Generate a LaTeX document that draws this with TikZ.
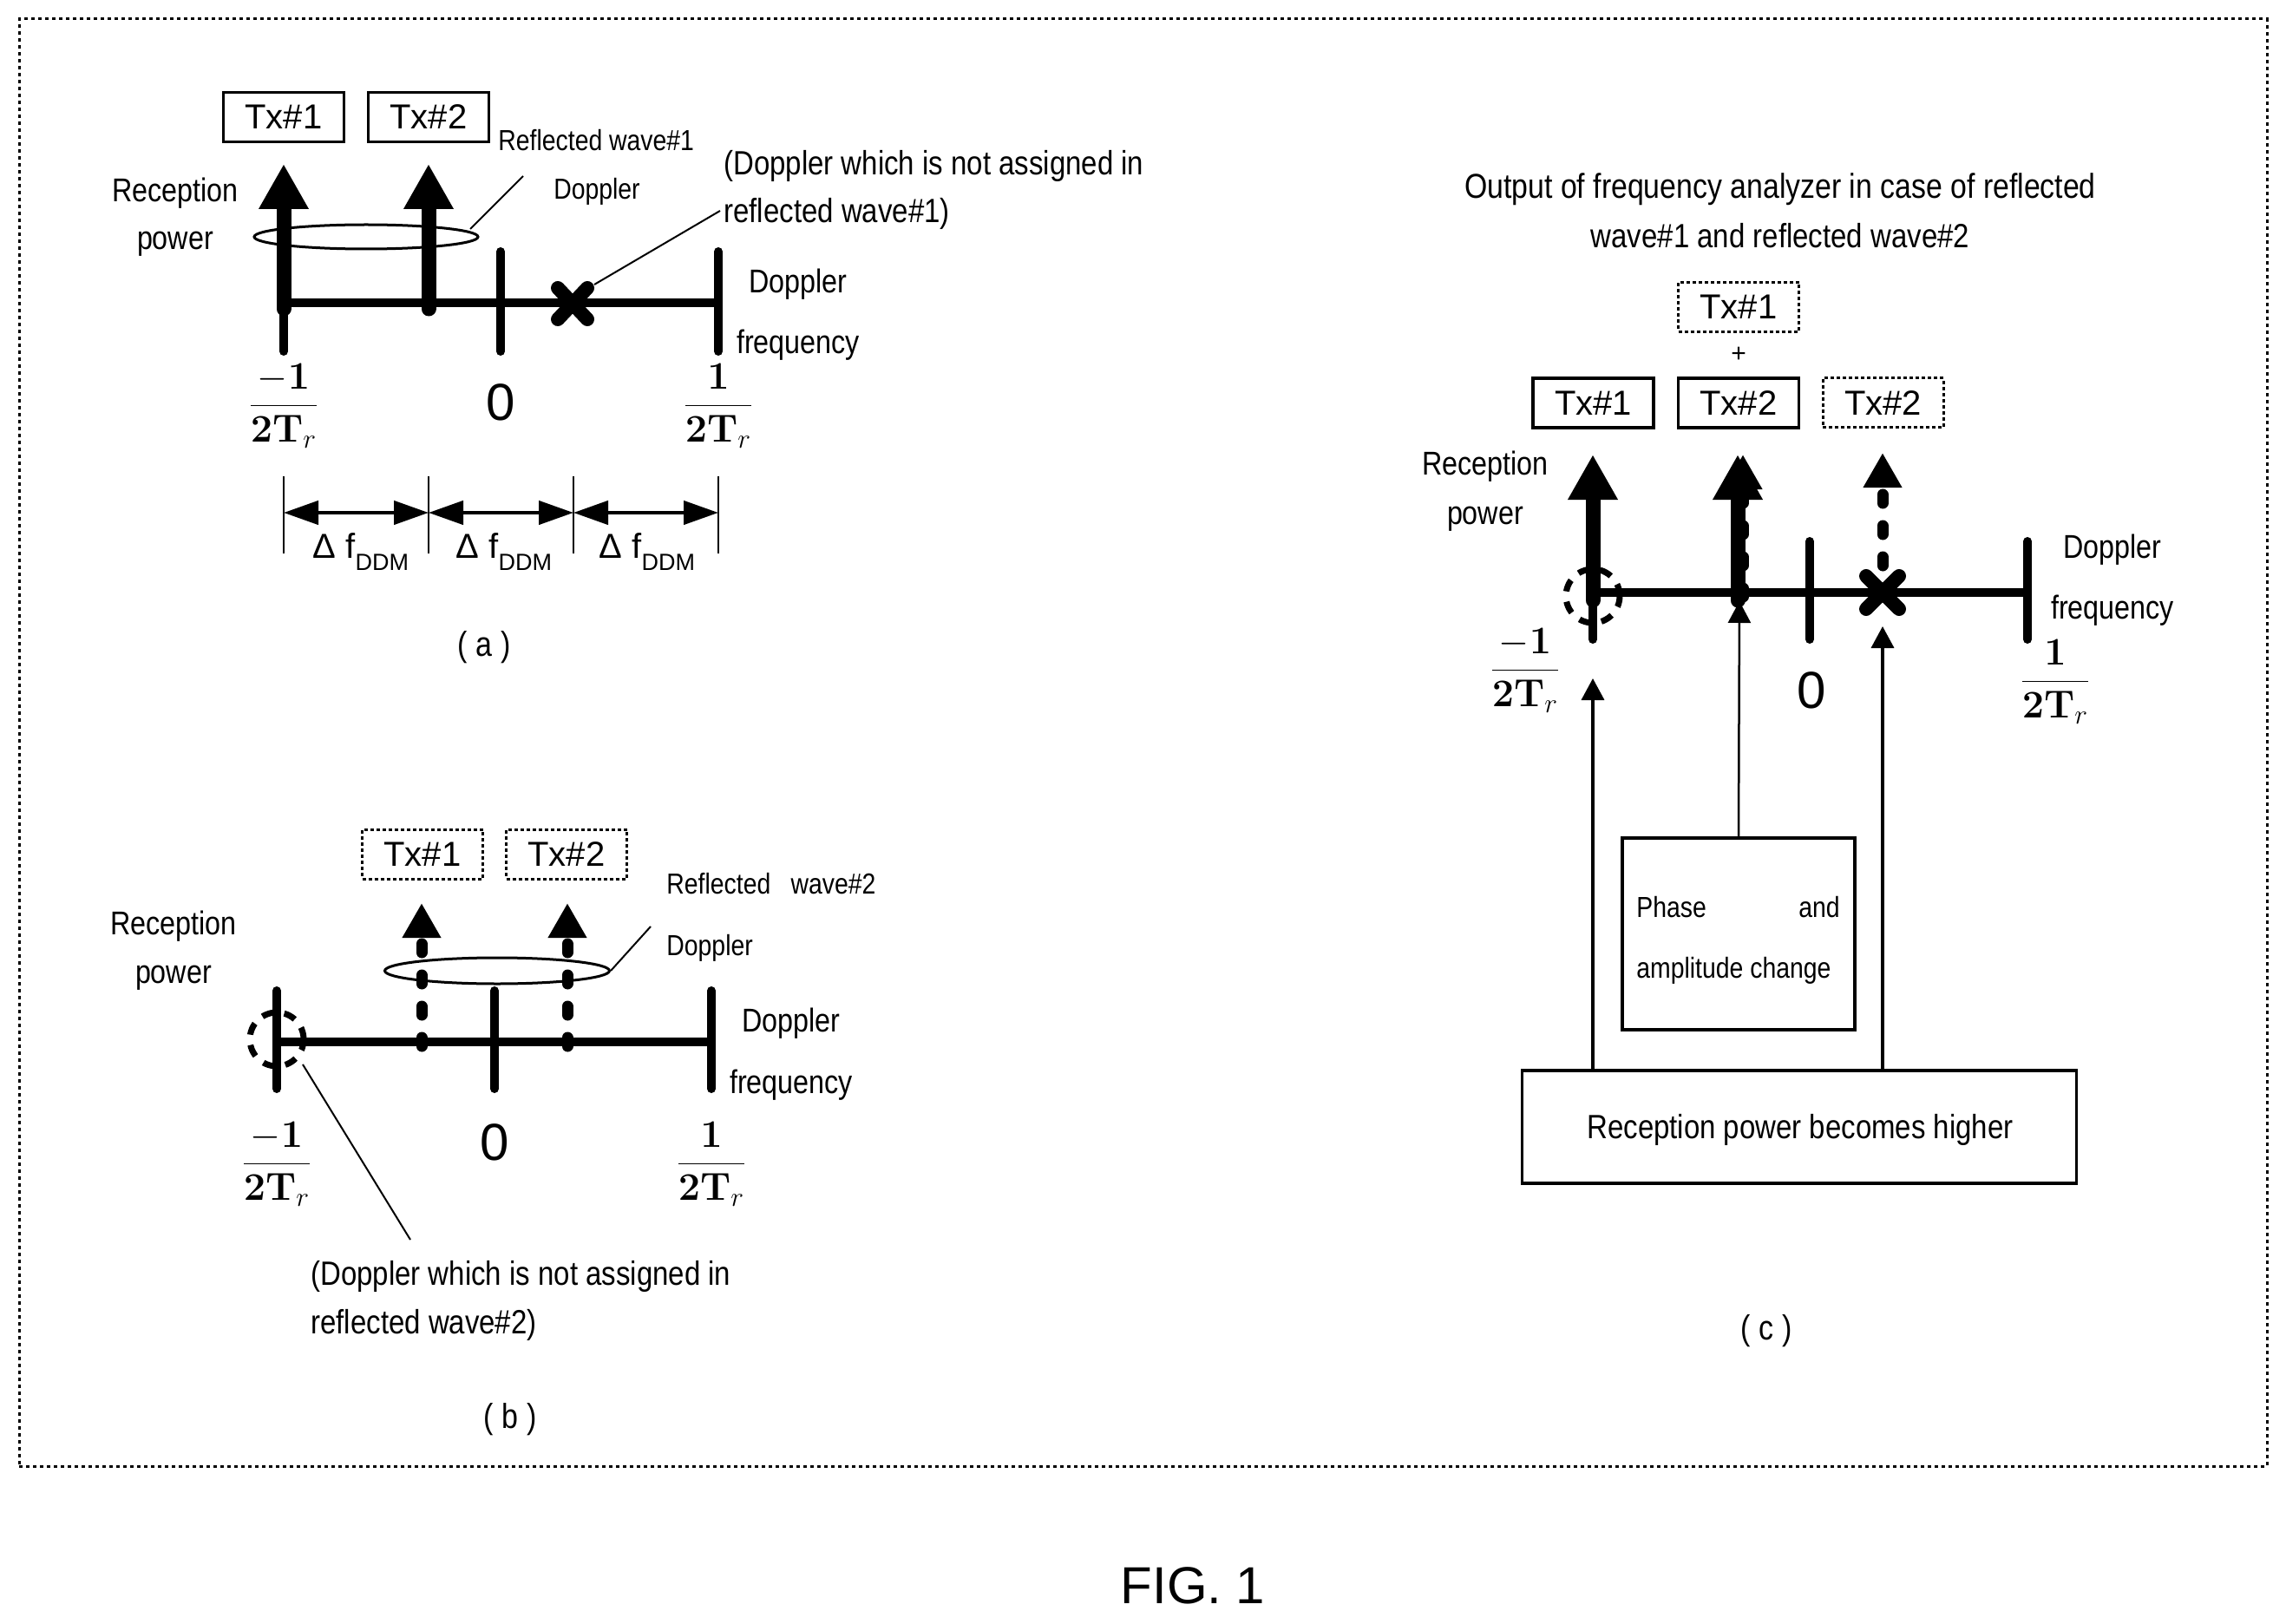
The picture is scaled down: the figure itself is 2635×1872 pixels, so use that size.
\RequirePackage{fix-cm}
\documentclass[tikz,border=0pt]{standalone}
\usepackage[no-math]{fontspec}
\setmainfont{Liberation Sans}
\newfontfamily\narrowfont[FakeStretch=0.85]{Liberation Sans}
\usetikzlibrary{arrows.meta,shapes.geometric,calc}
\newcommand{\fsz}[1]{\fontsize{#1}{#1}\selectfont}
\newcommand{\dfr}[1]{$\displaystyle\frac{\mathbf{#1}}{\mathbf{2T}_{r}}$}
\tikzset{
  x=0.5pt,y=-0.5pt,
  lab/.style={inner sep=0pt,font=\narrowfont\fsz{19}},
  labs/.style={inner sep=0pt,font=\narrowfont\fsz{16.7}},
  lbl/.style={inner sep=0pt,font=\narrowfont\fsz{19.4}},
  panel/.style={inner sep=0pt,font=\narrowfont\fsz{20}},
  fraclab/.style={inner sep=0pt,font=\fsz{22.5}},
  zero/.style={inner sep=0pt,font=\fsz{30}},
  txbox/.style={draw,line width=1.75pt,inner sep=0pt,font=\fsz{20},minimum width=69.5pt,minimum height=28.5pt},
  txdash/.style={txbox,line width=1.5pt,dash pattern=on 2pt off 1.5pt},
  plainbox/.style={draw,line width=1.75pt,inner sep=0pt},
  framedash/.style={draw,line width=1.5pt,dash pattern=on 2pt off 2pt},
  axisline/.style={line width=5.25pt},
  tickline/.style={line width=5pt,line cap=round},
  bigarrow/.style={line width=8.5pt,-{Triangle[length=26pt,width=27pt]}},
  dasharrow/.style={line width=6.5pt,line cap=round,dash pattern=on 5pt off 13pt,-{Triangle[length=20pt,width=21pt]}},
  crossline/.style={line width=8pt,line cap=round},
  circdash/.style={draw,circle,line width=3.5pt,dash pattern=on 7pt off 6pt,inner sep=0pt,minimum width=31pt},
  ring/.style={draw,ellipse,line width=1.5pt,inner sep=0pt},
  leader/.style={line width=1pt},
  dim/.style={line width=2.25pt,{Triangle[length=20pt,width=13.5pt]}-{Triangle[length=20pt,width=13.5pt]}},
  dimv/.style={line width=1pt},
  uparrow/.style={line width=1.75pt,-{Triangle[length=12.5pt,width=13pt]}},
}
\begin{document}
\begin{tikzpicture}
\useasboundingbox (0,0) rectangle (2635,1872);
\fill[white] (0,0) rectangle (2635,1872);
\node[framedash,minimum width=1295.5pt,minimum height=834pt,inner sep=0pt] (frame) at (1317.5,856) {};
\node[inner sep=0pt,font=\fsz{30}] (fig) at (1375,1828) {FIG. 1};

%% ---------- panel (a) ----------
\coordinate (aL) at (327,349); \coordinate (aM) at (577,349); \coordinate (aR) at (828,349);
\draw[axisline] (aL) -- (aR);
\draw[tickline] (327,290) -- (327,405);
\draw[tickline] (aM |- 0,290) -- (aM |- 0,405);
\draw[tickline] (aR |- 0,290) -- (aR |- 0,405);
\draw[bigarrow,line cap=round] (327,356) -- (327,189);
\draw[bigarrow,line cap=round] (494,356) -- (494,189);
\node[txbox] (atx1) at (327,135) {Tx\#1};
\node[txbox] (atx2) at (494,135) {Tx\#2};
\node[ring,minimum width=129pt,minimum height=14pt] (aring) at (422,273) {};
\coordinate (aringEnd) at (603,203);
\draw[leader] (542,264) -- (aringEnd);
\coordinate (across) at (660,350);
\draw[crossline] ($(across)+(-17,-18)$) -- ($(across)+(17,18)$);
\draw[crossline] ($(across)+(17,-18)$) -- ($(across)+(-17,18)$);
\coordinate (acrossEnd) at (830,243);
\draw[leader] (685,328) -- (acrossEnd);
\node[lab] (arp) at (202,223) {Reception};
\node[lab] (arp2) at (202,281) {power};
\node[labs,anchor=west] (arw) at (574,162) {Reflected wave\#1};
\node[labs] (adop) at (688,221) {Doppler};
\node[lbl,anchor=west] (ana1) at (834,191) {(Doppler which is not assigned in};
\node[lbl,anchor=west] (ana2) at (834,246) {reflected wave\#1)};
\node[lab] (adf1) at (920,328) {Doppler};
\node[lab] (adf2) at (920,398) {frequency};
\node[fraclab] (afa) at (327,468) {\dfr{-1}};
\node[zero] (az) at (577,464) {0};
\node[fraclab] (afb) at (828,468) {\dfr{1}};
\foreach \x in {327,494,661,828} \draw[dimv] (\x,549) -- (\x,638);
\coordinate (ad0) at (327,591); \coordinate (ad1) at (494,591); \coordinate (ad2) at (661,591); \coordinate (ad3) at (828,591);
\draw[dim] (ad0) -- (ad1);
\draw[dim] (ad1) -- (ad2);
\draw[dim] (ad2) -- (ad3);
\foreach \x/\n in {416/a,581/b,746/c}
  \node[inner sep=0pt,font=\fsz{20}] (ad\n) at (\x,636) {Δ f\raisebox{-.35em}{\fsz{13.5}DDM}};
\node[panel] (apan) at (558,746) {(\hspace{.25em}a\hspace{.25em})};

%% ---------- panel (b) ----------
\coordinate (bL) at (319,1201); \coordinate (bM) at (570,1201); \coordinate (bR) at (820,1201);
\draw[axisline] (bL) -- (bR);
\draw[tickline] (bL |- 0,1142) -- (bL |- 0,1255);
\draw[tickline] (bM |- 0,1142) -- (bM |- 0,1255);
\draw[tickline] (bR |- 0,1142) -- (bR |- 0,1255);
\draw[dasharrow] (486,1206) -- (486,1041);
\draw[dasharrow] (654,1206) -- (654,1041);
\node[txdash] (btx1) at (487,984.5) {Tx\#1};
\node[txdash] (btx2) at (653,984.5) {Tx\#2};
\node[ring,minimum width=129.5pt,minimum height=15pt] (bring) at (573,1119) {};
\coordinate (bringEnd) at (750,1068);
\draw[leader] (bring.east) -- (bringEnd);
\node[circdash] (bcirc) at (319,1198) {};
\coordinate (bcircEnd) at (473,1429);
\draw[leader] (349,1227) -- (bcircEnd);
\node[lab] (brp) at (200,1068) {Reception};
\node[lab] (brp2) at (200,1127) {power};
\node[labs,anchor=west] (brw) at (768,1019) {Reflected\hspace{.7em}wave\#2};
\node[labs,anchor=west] (bdop) at (768,1093) {Doppler};
\node[lbl,anchor=west] (bna1) at (358,1471) {(Doppler which is not assigned in};
\node[lbl,anchor=west] (bna2) at (358,1527) {reflected wave\#2)};
\node[lab] (bdf1) at (912,1180) {Doppler};
\node[lab] (bdf2) at (912,1251) {frequency};
\node[fraclab] (bfa) at (319,1342) {\dfr{-1}};
\node[zero] (bz) at (570,1317) {0};
\node[fraclab] (bfb) at (820,1342) {\dfr{1}};
\node[panel] (bpan) at (588,1636) {(\hspace{.25em}b\hspace{.25em})};

%% ---------- panel (c) ----------
\coordinate (cL) at (1836,683); \coordinate (cM) at (2086,683); \coordinate (cR) at (2337,683);
\draw[axisline] (cL) -- (cR);
\draw[tickline] (cL |- 0,624) -- (cL |- 0,737);
\draw[tickline] (cM |- 0,624) -- (cM |- 0,737);
\draw[tickline] (cR |- 0,624) -- (cR |- 0,737);
\draw[dasharrow] (2009,688) -- (2009,524);
\draw[bigarrow,line cap=round] (1836,692) -- (1836,524);
\draw[bigarrow,line cap=round] (2003,692) -- (2003,524);
\draw[dasharrow] (2170,688) -- (2170,522);
\coordinate (ccross) at (2170,683);
\draw[crossline] ($(ccross)+(-19,-19)$) -- ($(ccross)+(19,19)$);
\draw[crossline] ($(ccross)+(19,-19)$) -- ($(ccross)+(-19,19)$);
\node[circdash] (ccirc) at (1836,687) {};
\node[txdash] (ctx0) at (2004,354) {Tx\#1};
\node[inner sep=0pt,font=\fsz{15}] (cplus) at (2004,409) {+};
\node[txbox] (ctx1) at (1836.5,464.5) {Tx\#1};
\node[txbox] (ctx2) at (2004,464.5) {Tx\#2};
\node[txdash] (ctx3) at (2170.5,464.5) {Tx\#2};
\node[inner sep=0pt,font=\narrowfont\fsz{19.9}] (ct1) at (2052,218) {Output of frequency analyzer in case of reflected};
\node[lbl] (ct2) at (2052,272) {wave\#1 and reflected wave\#2};
\node[lab] (crp) at (1712,538) {Reception};
\node[lab] (crp2) at (1712,598) {power};
\node[lab] (cdf1) at (2435,634) {Doppler};
\node[lab] (cdf2) at (2435,704) {frequency};
\node[fraclab] (cfa) at (1758,773) {\dfr{-1}};
\node[zero] (cz) at (2088,796) {0};
\node[fraclab] (cfb) at (2369,786) {\dfr{1}};
\node[plainbox,minimum width=134pt,minimum height=110.5pt] (cphase) at (2004,1076.5) {};
\node[plainbox,minimum width=319.5pt,minimum height=65pt] (chigh) at (2074,1299) {};
\node[labs,anchor=west] (cp1) at (1886,1046) {Phase};
\node[labs,anchor=east] (cp2) at (2121,1046) {and};
\node[labs,anchor=west] (cp3) at (1886,1119) {amplitude change};
\node[lbl] (cp4) at (2075,1302) {Reception power becomes higher};
\coordinate (cup1) at (1836,782); \coordinate (cup2) at (2005,693); \coordinate (cup3) at (2170,722);
\draw[uparrow] (cup1 |- chigh.north) -- (cup1);
\draw[uparrow,line width=1.25pt] (cphase.north) -- (cup2);
\draw[uparrow] (cup3 |- chigh.north) -- (cup3);
\node[panel] (cpan) at (2036,1534) {(\hspace{.25em}c\hspace{.25em})};
\end{tikzpicture}
\end{document}
